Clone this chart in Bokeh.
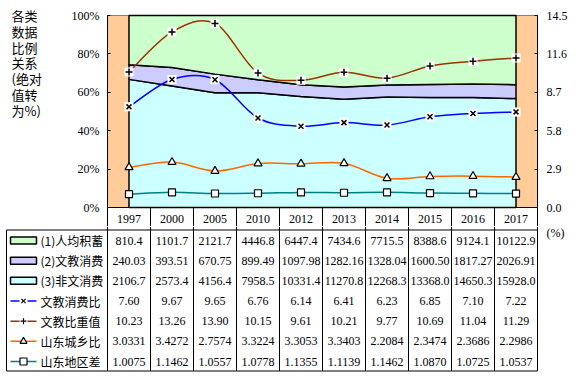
from bokeh.plotting import figure
from bokeh.layouts import column, row
from bokeh.models import Range1d, LinearAxis, FixedTicker, NumeralTickFormatter, ColumnDataSource
from bokeh.core.properties import value
from bokeh.embed import file_html
from bokeh.resources import INLINE

# ---------------- data ----------------
years = ["1997", "2000", "2005", "2010", "2012", "2013", "2014", "2015", "2016", "2017"]
savings = [810.4, 1101.7, 2121.7, 4446.8, 6447.4, 7434.6, 7715.5, 8388.6, 9124.1, 10122.9]
edu_consume = [240.03, 393.51, 670.75, 899.49, 1097.98, 1282.16, 1328.04, 1600.50, 1817.27, 2026.91]
non_edu_consume = [2106.7, 2573.4, 4156.4, 7958.5, 10331.4, 11270.8, 12268.3, 13368.0, 14650.3, 15928.0]
edu_ratio = [7.60, 9.67, 9.65, 6.76, 6.14, 6.41, 6.23, 6.85, 7.10, 7.22]
edu_weight = [10.23, 13.26, 13.90, 10.15, 9.61, 10.21, 9.77, 10.69, 11.04, 11.29]
urban_rural = [3.0331, 3.4272, 2.7574, 3.3224, 3.3053, 3.3403, 2.2084, 2.3474, 2.3686, 2.2986]
region_gap = [1.0075, 1.1462, 1.0557, 1.0778, 1.1355, 1.1139, 1.1462, 1.0870, 1.0725, 1.0537]

series_names = ["(1)人均积蓄", "(2)文教消费", "(3)非文消费", "文教消费比", "文教比重值", "山东城乡比", "山东地区差"]
series_fmt = ["{:.1f}", "{:.2f}", "{:.1f}", "{:.2f}", "{:.2f}", "{:.4f}", "{:.4f}"]
title_lines = ["各类", "数据", "比例", "关系", "(绝对", "值转", "为%)"]
left_ticks = [0.0, 0.2, 0.4, 0.6, 0.8, 1.0]
right_ticks = [0.0, 2.9, 5.8, 8.7, 11.6, 14.5]
right_max = 14.5
right_unit = "(%)"

# ---------------- styles / layout constants ----------------
C_GREEN, C_LAV, C_CYAN, C_BG = "#CCFFCC", "#CCCCFF", "#CCFFFF", "#FFCC99"
C_BLUE, C_BROWN, C_ORANGE, C_TEAL = "#0000FF", "#993300", "#FF6600", "#008080"
SERIF = value("Liberation Serif")
CJK = value("Noto Sans CJK SC")

TOP_H = 226          # height of upper row (chart + year row)
FR_TOP = 15          # px of y = 100%
ZERO_PX = 207        # px of y = 0
PLOT_H = ZERO_PX - FR_TOP
BELOW = (TOP_H - ZERO_PX) / PLOT_H   # range fraction below zero (year row)
ABOVE = FR_TOP / PLOT_H               # range fraction above 100%

N = len(years)
idx = list(range(N))
total = [a + b + c for a, b, c in zip(savings, edu_consume, non_edu_consume)]
lvl1 = [c / t for c, t in zip(non_edu_consume, total)]
lvl2 = [(c + b) / t for c, b, t in zip(non_edu_consume, edu_consume, total)]
lvl3 = [(c + b + a) / t for c, b, a, t in zip(non_edu_consume, edu_consume, savings, total)]

# ---------------- title figure ----------------
t = figure(width=50, height=TOP_H, x_range=Range1d(0, 50), y_range=Range1d(TOP_H, 0),
           min_border=0, toolbar_location=None, output_backend="svg", title=None,
           x_axis_type=None, y_axis_type=None, outline_line_color=None)
t.xgrid.visible = False
t.ygrid.visible = False
t.text(x=[11] * len(title_lines), y=[15 + 15.8 * i for i in range(len(title_lines))],
       text=title_lines, text_font=CJK, text_font_size="13px", text_color="black",
       text_baseline="middle", text_align="left")

# ---------------- chart figure ----------------
p1 = figure(width=527, height=TOP_H, x_range=Range1d(-0.5, N - 0.5),
            y_range=Range1d(-BELOW, 1 + ABOVE),
            min_border_left=57, min_border_right=40, min_border_top=0, min_border_bottom=0,
            toolbar_location=None, output_backend="svg", title=None, x_axis_type=None,
            background_fill_color="white", border_fill_color="white", outline_line_color=None)
p1.xgrid.visible = False
p1.ygrid.visible = False
p1.extra_y_ranges = {"r": Range1d(-BELOW * right_max, (1 + ABOVE) * right_max)}

ya = p1.yaxis[0]
ya.ticker = FixedTicker(ticks=left_ticks)
ya.formatter = NumeralTickFormatter(format="0%")
ya.bounds = (-BELOW, 1)
ya.major_tick_in = 3
ya.major_tick_out = 0
ya.minor_tick_line_color = None
ya.axis_line_color = "black"
ya.major_label_standoff = 8
ya.major_label_text_font = "Liberation Serif"
ya.major_label_text_font_size = "12px"
ya.major_label_text_color = "black"

ra = LinearAxis(y_range_name="r", ticker=FixedTicker(ticks=right_ticks),
                formatter=NumeralTickFormatter(format="0.0"),
                bounds=(-BELOW * right_max, right_max))
ra.major_tick_in = 3
ra.major_tick_out = 0
ra.minor_tick_line_color = None
ra.axis_line_color = "black"
ra.major_label_standoff = 9
ra.major_label_text_font = "Liberation Serif"
ra.major_label_text_font_size = "12px"
ra.major_label_text_color = "black"
p1.add_layout(ra, "right")

# plot-area background
p1.quad(left=[-0.5], right=[N - 0.5], bottom=[0], top=[1], fill_color=C_BG,
        line_color="#808080", line_width=1)

# stacked 100% areas
bands = [(lvl1, [0.0] * N, C_CYAN), (lvl2, lvl1, C_LAV), (lvl3, lvl2, C_GREEN)]
for upper, lower, col in bands:
    p1.patch(x=idx + idx[::-1], y=upper + lower[::-1], fill_color=col,
             line_color="black", line_width=1.5)
p1.segment(x0=[-0.5], y0=[0], x1=[N - 0.5], y1=[0], line_color="black", line_width=1)

# year row (category labels and separators)
YR_Y = -(218 - ZERO_PX) / PLOT_H
p1.segment(x0=[k - 0.5 for k in range(N + 1)], y0=[0] * (N + 1),
           x1=[k - 0.5 for k in range(N + 1)], y1=[-BELOW] * (N + 1),
           line_color="black", line_width=1)
p1.text(x=idx, y=[YR_Y] * N, text=years, text_font=SERIF, text_font_size="12px",
        text_color="black", text_align="center", text_baseline="middle")


def smooth_segments(ys):
    n = len(ys)
    xs = list(range(n))
    d = dict(x0=[], y0=[], x1=[], y1=[], cx0=[], cy0=[], cx1=[], cy1=[])
    for i in range(n - 1):
        a = i - 1 if i > 0 else i
        b = i + 2 if i + 2 < n else i + 1
        d["x0"].append(xs[i]); d["y0"].append(ys[i])
        d["x1"].append(xs[i + 1]); d["y1"].append(ys[i + 1])
        d["cx0"].append(xs[i] + (xs[i + 1] - xs[a]) / 6)
        d["cy0"].append(ys[i] + (ys[i + 1] - ys[a]) / 6)
        d["cx1"].append(xs[i + 1] - (xs[b] - xs[i]) / 6)
        d["cy1"].append(ys[i + 1] - (ys[b] - ys[i]) / 6)
    return ColumnDataSource(d)


line_series = [
    (edu_ratio, C_BLUE, "x"),
    (edu_weight, C_BROWN, "cross"),
    (urban_rural, C_ORANGE, "triangle"),
    (region_gap, C_TEAL, "square"),
]
for ys, col, mk in line_series:
    p1.bezier(x0="x0", y0="y0", x1="x1", y1="y1", cx0="cx0", cy0="cy0", cx1="cx1", cy1="cy1",
              source=smooth_segments(ys), line_color=col, line_width=1.5, y_range_name="r")
for ys, col, mk in line_series:
    if mk in ("x", "cross"):
        p1.scatter(idx, ys, marker="square", size=9, fill_color="white", line_color=None,
                   y_range_name="r")
        p1.scatter(idx, ys, marker=mk, size=7, line_color="black", line_width=1.5,
                   y_range_name="r")
    elif mk == "triangle":
        p1.scatter(idx, ys, marker=mk, size=8, fill_color="white", line_color="black",
                   line_width=1.2, y_range_name="r")
    else:
        p1.scatter(idx, ys, marker=mk, size=7, fill_color="white", line_color="black",
                   line_width=1.2, y_range_name="r")

# ---------------- table figure ----------------
BOT_H = 376 - TOP_H
COLW = 43.0
X0PX = 107.0
p2 = figure(width=577, height=BOT_H, x_range=Range1d(-X0PX / COLW, (577 - X0PX) / COLW),
            y_range=Range1d(BOT_H, 0), min_border=0, toolbar_location=None, title=None,
            output_backend="svg", x_axis_type=None, y_axis_type=None,
            outline_line_color=None, background_fill_color="white", border_fill_color="white")
p2.xgrid.visible = False
p2.ygrid.visible = False

TAB_TOP = 229 - TOP_H + 0.5
TAB_BOT = 370 - TOP_H + 0.5
ROW0 = 240 - TOP_H
ROWH = 20.17
LEG_L = (6 - X0PX) / COLW
KEY_X = (23 - X0PX) / COLW
KEY_HALF = 13 / COLW
TXT_X = (40 - X0PX) / COLW

# grid lines of table
p2.segment(x0=list(range(N + 1)), y0=[0] * (N + 1), x1=list(range(N + 1)), y1=[TAB_BOT] * (N + 1),
           line_color="black", line_width=1)
p2.segment(x0=[LEG_L, LEG_L, LEG_L], y0=[TAB_TOP, TAB_TOP, TAB_BOT],
           x1=[LEG_L, N, N], y1=[TAB_BOT, TAB_TOP, TAB_BOT], line_color="black", line_width=1)

row_y = [ROW0 + ROWH * r for r in range(len(series_names))]
all_rows = [savings, edu_consume, non_edu_consume, edu_ratio, edu_weight, urban_rural, region_gap]
tx, ty, tt = [], [], []
for r, vals in enumerate(all_rows):
    for i, v in enumerate(vals):
        tx.append(i + 0.5)
        ty.append(row_y[r])
        tt.append(series_fmt[r].format(v))
p2.text(x=tx, y=ty, text=tt, text_font=SERIF, text_font_size="12px", text_color="black",
        text_align="center", text_baseline="middle")

# legend keys
p2.rect(x=[KEY_X] * 3, y=row_y[:3], width=26, height=7, width_units="screen",
        height_units="screen", fill_color=[C_GREEN, C_LAV, C_CYAN], line_color="black",
        line_width=1.5)
for k, (ys, col, mk) in enumerate(line_series):
    yy = row_y[3 + k]
    p2.segment(x0=[KEY_X - KEY_HALF], y0=[yy], x1=[KEY_X + KEY_HALF], y1=[yy],
               line_color=col, line_width=1.5)
    if mk in ("x", "cross"):
        p2.scatter([KEY_X], [yy], marker="square", size=8, fill_color="white", line_color=None)
        p2.scatter([KEY_X], [yy], marker=mk, size=6, line_color="black", line_width=1.2)
    else:
        p2.scatter([KEY_X], [yy], marker=mk, size=7, fill_color="white", line_color="black",
                   line_width=1.2)
p2.text(x=[TXT_X] * len(series_names), y=row_y, text=series_names, text_font=CJK,
        text_font_size="12px", text_color="black", text_align="left", text_baseline="middle")

p2.text(x=[(555 - X0PX) / COLW], y=[232 - TOP_H], text=[right_unit], text_font=SERIF,
        text_font_size="12px", text_color="black", text_align="center", text_baseline="middle")

layout = column(row(t, p1), p2)
open("out.html", "w").write(file_html(layout, INLINE))
